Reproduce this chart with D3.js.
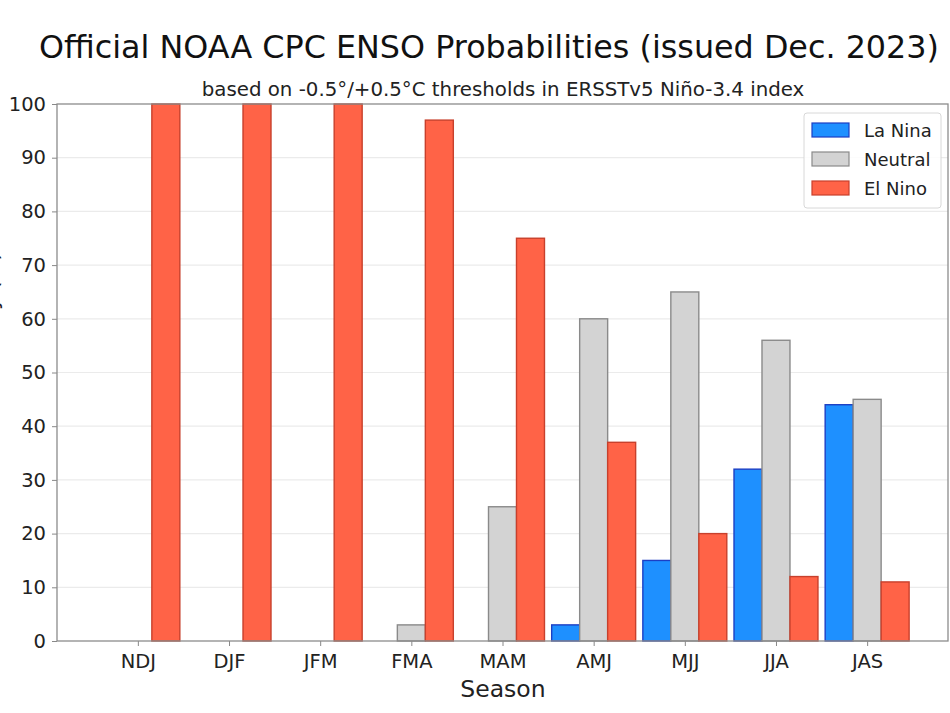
<!DOCTYPE html>
<html>
<head>
<meta charset="utf-8">
<script src="https://cdn.jsdelivr.net/npm/d3@7"></script>
<style>
  body { margin: 0; background: #fff; }
  svg { font-family: "DejaVu Sans", sans-serif; }
</style>
</head>
<body>
<svg id="svg" width="950" height="713"></svg>
<script>
const w = 950;
const h = 713;

const seasons = ["NDJ", "DJF", "JFM", "FMA", "MAM", "AMJ", "MJJ", "JJA", "JAS"];
const laNina = [0, 0, 0, 0, 0, 3, 15, 32, 44];
const neutral = [0, 0, 0, 3, 25, 60, 65, 56, 45];
const elNino = [100, 100, 100, 97, 75, 37, 20, 12, 11];
const yTicks = [0, 10, 20, 30, 40, 50, 60, 70, 80, 90, 100];

const series = [
  { name: "La Nina", values: laNina, fill: "#1E90FF", stroke: "#1c3fc4", offset: -1 },
  { name: "Neutral", values: neutral, fill: "#D3D3D3", stroke: "#8a8a8a", offset: 0 },
  { name: "El Nino", values: elNino, fill: "#FF6347", stroke: "#c8402c", offset: 1 }
];

const padL = 57, padR = 948, padT = 104, padB = 641;

let svg = d3.select("#svg");

// x is a linear scale over the category index so the axes padding matches
let xScale = d3.scaleLinear([-0.887, seasons.length - 1 + 0.887], [padL, padR]);
let yScale = d3.scaleLinear([0, 100], [padB, padT]);
const barW = xScale(0.307) - xScale(0);

// grid
svg.append("g")
  .selectAll("line")
  .data(yTicks.slice(1, -1))
  .join("line")
  .attr("x1", padL)
  .attr("x2", padR)
  .attr("y1", (d) => yScale(d))
  .attr("y2", (d) => yScale(d))
  .attr("stroke", "#ebebeb")
  .attr("stroke-width", 1.2);

// bars
series.forEach((s) => {
  svg.append("g")
    .selectAll("rect")
    .data(s.values)
    .join("rect")
    .attr("x", (d, i) => xScale(i) + (s.offset - 0.5) * barW)
    .attr("y", (d) => yScale(d))
    .attr("width", barW)
    .attr("height", (d) => yScale(0) - yScale(d))
    .attr("fill", s.fill)
    .attr("stroke", s.stroke)
    .attr("stroke-width", 1.4);
});

// axes
let xAxis = d3.axisBottom(xScale)
  .tickValues(d3.range(seasons.length))
  .tickFormat((i) => seasons[i])
  .tickSize(5)
  .tickPadding(8);
let yAxis = d3.axisLeft(yScale)
  .tickValues(yTicks)
  .tickSize(5)
  .tickPadding(6);

let gx = svg.append("g").attr("transform", `translate(0,${padB})`).call(xAxis);
let gy = svg.append("g").attr("transform", `translate(${padL},0)`).call(yAxis);

[gx, gy].forEach((g) => {
  g.select(".domain").remove();
  g.selectAll(".tick line").attr("stroke", "#888");
  g.selectAll(".tick text")
    .attr("fill", "#222")
    .attr("font-size", 19.5)
    .attr("font-family", "DejaVu Sans");
});

// frame
svg.append("rect")
  .attr("x", padL)
  .attr("y", padT)
  .attr("width", padR - padL)
  .attr("height", padB - padT)
  .attr("fill", "none")
  .attr("stroke", "#8c8c8c")
  .attr("stroke-width", 1.3);

// titles
svg.append("text")
  .attr("x", 489)
  .attr("y", 58)
  .attr("text-anchor", "middle")
  .attr("font-size", 31.8)
  .attr("fill", "#111")
  .text("Official NOAA CPC ENSO Probabilities (issued Dec. 2023)");

svg.append("text")
  .attr("x", 503)
  .attr("y", 96)
  .attr("text-anchor", "middle")
  .attr("font-size", 19.8)
  .attr("fill", "#222")
  .text("based on -0.5°/+0.5°C thresholds in ERSSTv5 Niño-3.4 index");

svg.append("text")
  .attr("x", 503)
  .attr("y", 697)
  .attr("text-anchor", "middle")
  .attr("font-size", 23.5)
  .attr("fill", "#222")
  .text("Season");

svg.append("text")
  .attr("transform", `translate(-2,${(padT + padB) / 2 - 40}) rotate(-90)`)
  .attr("text-anchor", "middle")
  .attr("font-size", 22)
  .attr("fill", "#222")
  .text("Probability (%)");

// legend
let legend = svg.append("g").attr("transform", "translate(804,113)");
legend.append("rect")
  .attr("width", 137)
  .attr("height", 95)
  .attr("rx", 3)
  .attr("fill", "#fff")
  .attr("fill-opacity", 0.85)
  .attr("stroke", "#d8d8d8");

let items = legend.selectAll("g.item")
  .data(series)
  .join("g")
  .attr("class", "item")
  .attr("transform", (d, i) => `translate(8,${10 + i * 29})`);

items.append("rect")
  .attr("width", 37)
  .attr("height", 14)
  .attr("fill", (d) => d.fill)
  .attr("stroke", (d) => d.stroke)
  .attr("stroke-width", 1.2);

items.append("text")
  .attr("x", 52)
  .attr("y", 14)
  .attr("font-size", 18)
  .attr("fill", "#222")
  .text((d) => d.name);
</script>
</body>
</html>
